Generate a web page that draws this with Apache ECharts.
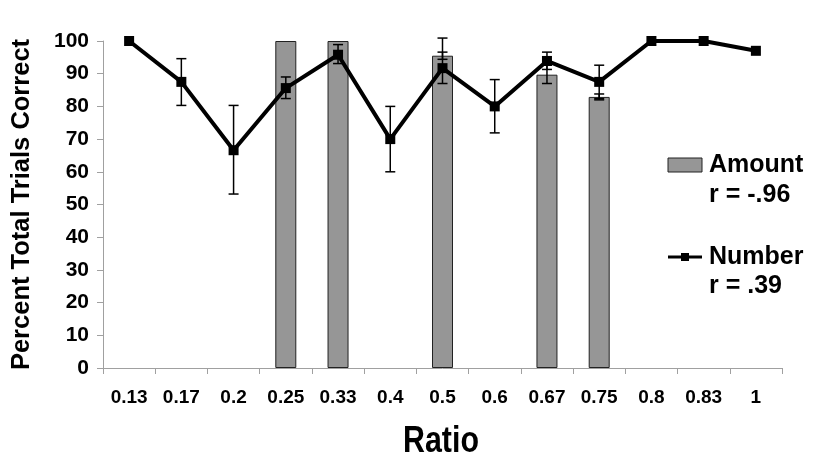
<!DOCTYPE html>
<html>
<head>
<meta charset="utf-8">
<script src="https://cdn.jsdelivr.net/npm/echarts@6/dist/echarts.min.js"></script>
<style>
html,body{margin:0;padding:0;background:#fff;}
#chart{width:830px;height:472px;}
</style>
</head>
<body>
<div id="chart"></div>
<script>
var categories = ['0.13','0.17','0.2','0.25','0.33','0.4','0.5','0.6','0.67','0.75','0.8','0.83','1'];
var amountValues = [null,null,null,100,100,null,95.5,null,89.7,82.9,null,null,null];
var amountErrLow = [null,null,null,null,null,null,94.4,null,87.0,82.0,null,null,null];
var amountErrHigh = [null,null,null,null,null,null,96.6,null,92.6,83.8,null,null,null];
var numberValues = [100,87.5,66.6,85.6,95.8,70,91.7,80,93.9,87.5,100,100,97];
var numberErrLow = [null,80.3,53.2,82.4,93.1,60,87.0,71.9,91.3,82.4,null,null,null];
var numberErrHigh = [null,94.6,80.3,89.0,98.9,80,100.9,88.2,96.6,92.6,null,null,null];
var yTicks = [0,10,20,30,40,50,60,70,80,90,100];

var chart = echarts.init(document.getElementById('chart'));

function errData(lo, hi) {
  var d = [];
  for (var i = 0; i < categories.length; i++) {
    if (lo[i] != null && hi[i] != null) d.push([i, lo[i], hi[i]]);
  }
  return d;
}

function renderErr(params, api) {
  var x = api.value(0);
  var lo = api.coord([x, api.value(1)]);
  var hi = api.coord([x, api.value(2)]);
  var hw = 5;
  var st = {stroke: '#000', lineWidth: 1.5};
  return {
    type: 'group',
    children: [
      {type: 'line', shape: {x1: lo[0], y1: lo[1], x2: hi[0], y2: hi[1]}, style: st},
      {type: 'line', shape: {x1: lo[0]-hw, y1: lo[1], x2: lo[0]+hw, y2: lo[1]}, style: st},
      {type: 'line', shape: {x1: hi[0]-hw, y1: hi[1], x2: hi[0]+hw, y2: hi[1]}, style: st}
    ]
  };
}

var boldFont = '"Liberation Sans", Arial, sans-serif';

chart.setOption({
  animation: false,
  grid: {left: 103, right: 48, top: 41, bottom: 104},
  xAxis: {
    type: 'category',
    data: categories,
    boundaryGap: true,
    axisLine: {lineStyle: {color: '#a0a0a0', width: 1}},
    axisTick: {show: true, length: 6, lineStyle: {color: '#a0a0a0'}},
    axisLabel: {fontFamily: boldFont, fontWeight: 'bold', fontSize: 19, color: '#000', margin: 20, interval: 0},
    splitLine: {show: false}
  },
  yAxis: {
    type: 'value',
    min: 0, max: 100, interval: 10,
    name: 'Percent Total Trials Correct',
    nameLocation: 'middle',
    nameRotate: 90,
    nameGap: 68,
    nameTextStyle: {fontFamily: boldFont, fontWeight: 'bold', fontSize: 25.5, color: '#000'},
    axisLine: {show: true, lineStyle: {color: '#a0a0a0', width: 1}},
    axisTick: {show: true, length: 6, lineStyle: {color: '#a0a0a0'}},
    axisLabel: {fontFamily: boldFont, fontWeight: 'bold', fontSize: 21, color: '#000', margin: 14},
    splitLine: {show: false}
  },
  series: [
    {
      name: 'Amount',
      type: 'bar',
      data: amountValues,
      barWidth: 21,
      itemStyle: {color: '#969696', borderColor: '#222', borderWidth: 1},
      z: 1
    },
    {
      name: 'AmountErr',
      type: 'custom',
      renderItem: renderErr,
      data: errData(amountErrLow, amountErrHigh),
      z: 3
    },
    {
      name: 'Number',
      type: 'line',
      data: numberValues,
      symbol: 'rect',
      symbolSize: 10,
      lineStyle: {color: '#000', width: 4},
      itemStyle: {color: '#000'},
      z: 4
    },
    {
      name: 'NumberErr',
      type: 'custom',
      renderItem: renderErr,
      data: errData(numberErrLow, numberErrHigh),
      z: 5
    }
  ],
  graphic: [
    {type: 'text', x: 441, y: 442, scaleX: 0.82, style: {text: 'Ratio', font: 'bold 37px ' + boldFont, fill: '#000', textAlign: 'center', textVerticalAlign: 'middle'}},
    {type: 'rect', shape: {x: 668, y: 158, width: 34, height: 14}, style: {fill: '#969696', stroke: '#222', lineWidth: 1}},
    {type: 'text', x: 709, y: 165, style: {text: 'Amount', font: 'bold 25px ' + boldFont, fill: '#000', textVerticalAlign: 'middle'}},
    {type: 'text', x: 709, y: 195, style: {text: 'r = -.96', font: 'bold 25px ' + boldFont, fill: '#000', textVerticalAlign: 'middle'}},
    {type: 'line', shape: {x1: 668, y1: 257, x2: 702, y2: 257}, style: {stroke: '#000', lineWidth: 3}},
    {type: 'rect', shape: {x: 681, y: 253, width: 8, height: 8}, style: {fill: '#000'}},
    {type: 'text', x: 709, y: 257, style: {text: 'Number', font: 'bold 25px ' + boldFont, fill: '#000', textVerticalAlign: 'middle'}},
    {type: 'text', x: 709, y: 286, style: {text: 'r = .39', font: 'bold 25px ' + boldFont, fill: '#000', textVerticalAlign: 'middle'}}
  ]
});
</script>
</body>
</html>
